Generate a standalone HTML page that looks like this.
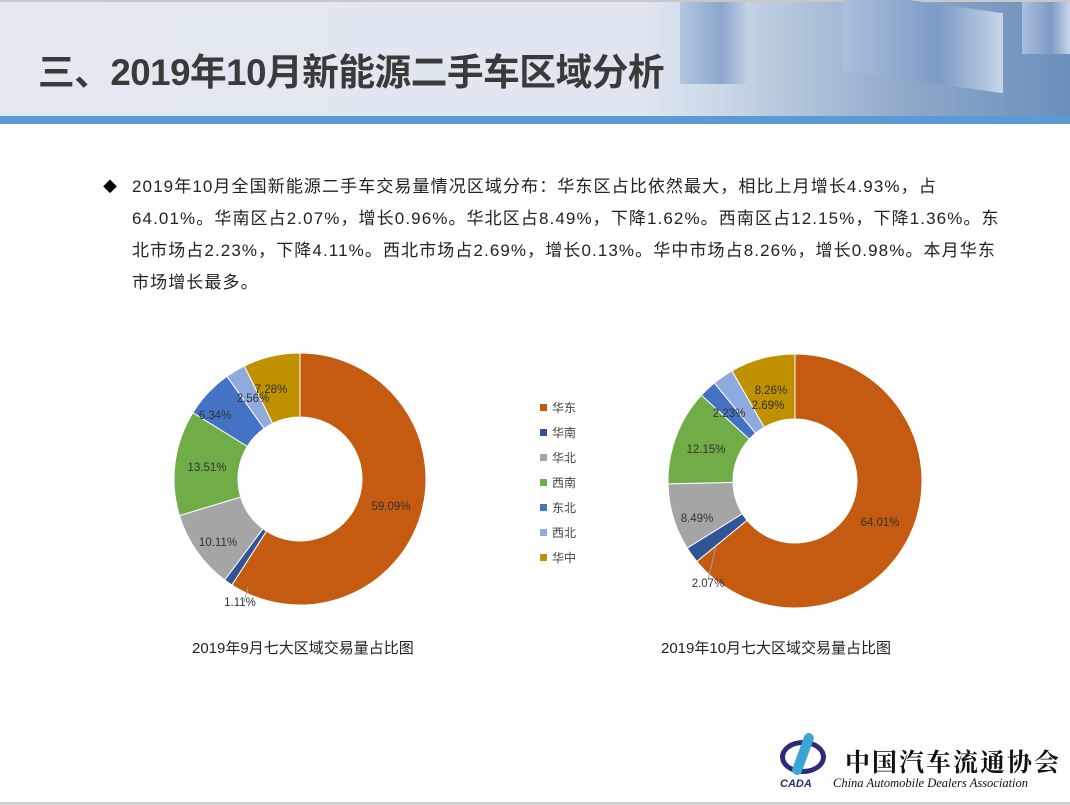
<!DOCTYPE html>
<html><head><meta charset="utf-8"><style>
body{margin:0;width:1070px;height:805px;overflow:hidden;background:#fff;font-family:"Liberation Sans","Noto Sans CJK SC",sans-serif;position:relative}
.hdr{position:absolute;left:0;top:0;width:1070px;height:118px;background:linear-gradient(90deg,#e4e9f1 0%,#dfe6ef 60%,#c9d6e6 68%,#8ea8c9 85%,#6b8fbd 100%);border-top:2px solid #c8c8c8;box-sizing:border-box}
.stripe{position:absolute;left:0;top:116px;width:1070px;height:8px;background:#5b9bd5}
.title{position:absolute;left:38px;top:50px;font-size:36.7px;line-height:46px;font-weight:bold;color:#3a3a3a;font-family:"Liberation Sans","Noto Sans CJK SC",sans-serif;letter-spacing:-0.5px}
.box{position:absolute;background:linear-gradient(90deg,#aac0dc,#7c9bc6 60%,#c7d5e8);}
.txt{position:absolute;left:132px;top:171px;font-size:17px;letter-spacing:1.1px;line-height:32px;color:#222;white-space:nowrap}
.bul{position:absolute;left:103px;top:171px;font-size:14px;line-height:32px}
.cap{position:absolute;font-size:15px;color:#222}
.leg{position:absolute;left:540px;font-size:12px;color:#444}
.leg i{display:inline-block;width:7px;height:7px;margin-right:5px;vertical-align:1px}
svg{position:absolute;left:0;top:0}
</style></head><body>
<div class="hdr"></div>
<div class="box" style="left:680px;top:2px;width:70px;height:82px;opacity:.8"></div>
<div class="box" style="left:843px;top:2px;width:160px;height:80px;transform:skewY(8deg)"></div>
<div class="box" style="left:1022px;top:2px;width:48px;height:52px"></div>
<div class="stripe"></div>
<div class="title">三、2019年10月新能源二手车区域分析</div>
<div class="bul">◆</div>
<div class="txt">2019年10月全国新能源二手车交易量情况区域分布：华东区占比依然最大，相比上月增长4.93%，占<br>64.01%。华南区占2.07%，增长0.96%。华北区占8.49%，下降1.62%。西南区占12.15%，下降1.36%。东<br>北市场占2.23%，下降4.11%。西北市场占2.69%，增长0.13%。华中市场占8.26%，增长0.98%。本月华东<br>市场增长最多。</div>
<svg id="s" width="1070" height="805"></svg>
<div class="leg" style="top:399px"><i style="background:#c55a11"></i>华东</div>
<div class="leg" style="top:424px"><i style="background:#2f5597"></i>华南</div>
<div class="leg" style="top:449px"><i style="background:#a5a5a5"></i>华北</div>
<div class="leg" style="top:474px"><i style="background:#70ad47"></i>西南</div>
<div class="leg" style="top:499px"><i style="background:#4472c4"></i>东北</div>
<div class="leg" style="top:524px"><i style="background:#8faadc"></i>西北</div>
<div class="leg" style="top:549px"><i style="background:#bf9000"></i>华中</div>
<div class="cap" style="left:192px;top:637px">2019年9月七大区域交易量占比图</div>
<div class="cap" style="left:661px;top:637px">2019年10月七大区域交易量占比图</div>
<div style="position:absolute;left:778px;top:730px;width:52px;height:62px">
<div style="position:absolute;left:2px;top:10px;width:46px;height:34px;border:5px solid #2d2a7a;border-radius:50%;box-sizing:border-box"></div>
<div style="position:absolute;left:20px;top:2px;width:10px;height:44px;background:#3aa6d8;border-radius:5px;transform:rotate(20deg)"></div>
<div style="position:absolute;left:2px;top:48px;font-size:11px;font-weight:bold;font-style:italic;color:#2d2a7a">CADA</div></div>
<div style="position:absolute;left:845px;top:743px;font-size:25px;font-family:'Noto Serif CJK SC',serif;font-weight:bold;color:#111;letter-spacing:2px">中国汽车流通协会</div>
<div style="position:absolute;left:833px;top:776px;font-size:12.5px;font-style:italic;font-family:'Liberation Serif',serif;color:#111">China Automobile Dealers Association</div>
<div style="position:absolute;left:0;top:802px;width:1070px;height:3px;background:#d0d0d0"></div>
<script>
var C=["#c55a11","#2f5597","#a5a5a5","#70ad47","#4472c4","#8faadc","#bf9000"];
function donut(cx,cy,R,r,vals,labels){
 var s=document.getElementById('s'),tot=vals.reduce((a,b)=>a+b,0),a=0,h='';
 vals.forEach(function(v,i){
  var a0=a/tot*2*Math.PI,a1=(a+v)/tot*2*Math.PI;a+=v;
  var p=function(rr,t){return [cx+rr*Math.sin(t),cy-rr*Math.cos(t)]};
  var A=p(R,a0),B=p(R,a1),D=p(r,a1),E=p(r,a0),L=(a1-a0)>Math.PI?1:0;
  h+='<path d="M'+A+' A'+R+','+R+' 0 '+L+' 1 '+B+' L'+D+' A'+r+','+r+' 0 '+L+' 0 '+E+'Z" fill="'+C[i]+'" stroke="#fff" stroke-width="1"/>';
 });
 labels.forEach(function(l){h+='<text x="'+l[0]+'" y="'+l[1]+'" font-size="11.5" fill="#333" text-anchor="middle" font-family="Liberation Sans,sans-serif">'+l[2]+'</text>';});
 s.innerHTML+=h;
}
donut(300,479,126,62,[59.09,1.11,10.11,13.51,6.34,2.56,7.28],[[391,510,"59.09%"],[218,546,"10.11%"],[207,471,"13.51%"],[215,419,"6.34%"],[253,402,"2.56%"],[271,393,"7.28%"]]);
donut(795,481,127,62,[64.01,2.07,8.49,12.15,2.23,2.69,8.26],[[880,526,"64.01%"],[697,522,"8.49%"],[706,453,"12.15%"],[729,417,"2.23%"],[768,409,"2.69%"],[771,394,"8.26%"]]);
var s=document.getElementById('s');
s.innerHTML+='<line x1="248" y1="587" x2="244" y2="602" stroke="#a0a0a0"/><text x="240" y="606" font-size="11.5" fill="#333" text-anchor="middle" font-family="Liberation Sans,sans-serif">1.11%</text>';
s.innerHTML+='<line x1="716" y1="546" x2="708" y2="580" stroke="#a0a0a0"/><text x="708" y="587" font-size="11.5" fill="#333" text-anchor="middle" font-family="Liberation Sans,sans-serif">2.07%</text>';
</script>
</body></html>
